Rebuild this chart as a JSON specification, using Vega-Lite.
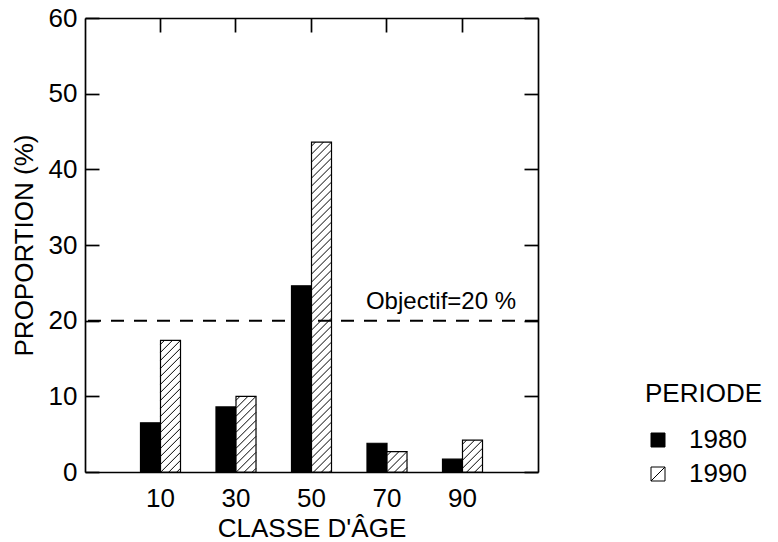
{
  "$schema": "https://vega.github.io/schema/vega-lite/v6.json",
  "width": 453,
  "height": 454,
  "autosize": {"type": "none"},
  "padding": {"left": 85, "top": 18, "right": 240, "bottom": 70},
  "background": "white",
  "config": {
    "view": {"stroke": null},
    "font": "Liberation Sans",
    "axis": {
      "domainColor": "black",
      "domainWidth": 1.7,
      "tickColor": "black",
      "tickWidth": 1.7,
      "tickSize": -14,
      "labelFont": "Liberation Sans",
      "labelFontSize": 26,
      "labelColor": "black",
      "titleFont": "Liberation Sans",
      "titleFontSize": 26,
      "titleFontWeight": "normal",
      "titleColor": "black",
      "grid": false
    }
  },
  "data": {
    "values": [
      {"classe": 10, "periode": "1980", "proportion": 6.5},
      {"classe": 10, "periode": "1990", "proportion": 17.4},
      {"classe": 30, "periode": "1980", "proportion": 8.6},
      {"classe": 30, "periode": "1990", "proportion": 10.0},
      {"classe": 50, "periode": "1980", "proportion": 24.6},
      {"classe": 50, "periode": "1990", "proportion": 43.6},
      {"classe": 70, "periode": "1980", "proportion": 3.8},
      {"classe": 70, "periode": "1990", "proportion": 2.7},
      {"classe": 90, "periode": "1980", "proportion": 1.7},
      {"classe": 90, "periode": "1990", "proportion": 4.2}
    ]
  },
  "layer": [
    {
      "mark": {"type": "bar", "stroke": "black", "strokeWidth": 1.2},
      "encoding": {
        "x": {
          "field": "classe",
          "type": "ordinal",
          "scale": {"domain": [10, 30, 50, 70, 90], "paddingInner": 0.47, "paddingOuter": 0.735},
          "axis": {"orient": "bottom", "title": "CLASSE D'ÂGE", "labelAngle": 0, "labelPadding": 27, "titlePadding": 4}
        },
        "xOffset": {
          "field": "periode",
          "type": "nominal",
          "scale": {"domain": ["1980", "1990"], "paddingInner": 0, "paddingOuter": 0}
        },
        "y": {
          "field": "proportion",
          "type": "quantitative",
          "scale": {"domain": [0, 60], "nice": false},
          "axis": {"orient": "left", "title": "PROPORTION (%)", "values": [0, 10, 20, 30, 40, 50, 60], "labelPadding": 22, "titlePadding": 11}
        },
        "fill": {
          "field": "periode",
          "type": "nominal",
          "scale": {"domain": ["1980", "1990"], "range": ["black", "white"]},
          "legend": {
            "orient": "none",
            "legendX": 560,
            "legendY": 363,
            "title": "PERIODE",
            "titleFont": "Liberation Sans",
            "titleFontSize": 26,
            "titleFontWeight": "normal",
            "titleColor": "black",
            "titlePadding": 20,
            "labelFont": "Liberation Sans",
            "labelFontSize": 26,
            "labelColor": "black",
            "labelOffset": 18,
            "rowPadding": 8,
            "symbolType": "M-1,-1H1V1H-1ZM-1,1L1,-1",
            "symbolSize": 196,
            "symbolStrokeColor": "black",
            "symbolStrokeWidth": 1
          }
        }
      }
    },
    {
      "transform": [{"filter": "datum.periode == '1990'"}],
      "mark": {
        "type": "point",
        "shape": "M-1,0.4L-0.6,0M-1,1.2L0.2,0M-1,2L1,0M-1,2.8L1,0.8M-1,3.6L1,1.6M-1,4.4L1,2.4M-1,5.2L1,3.2M-1,6L1,4M-1,6.8L1,4.8M-1,7.6L1,5.6M-1,8.4L1,6.4M-1,9.2L1,7.2M-1,10L1,8M-1,10.8L1,8.8M-1,11.6L1,9.6M-1,12.4L1,10.4M-1,13.2L1,11.2M-1,14L1,12M-1,14.8L1,12.8M-1,15.6L1,13.6M-1,16.4L1,14.4M-1,17.2L1,15.2M-1,18L1,16M-1,18.8L1,16.8M-1,19.6L1,17.6M-1,20.4L1,18.4M-1,21.2L1,19.2M-1,22L1,20M-1,22.8L1,20.8M-1,23.6L1,21.6M-1,24.4L1,22.4M-1,25.2L1,23.2M-1,26L1,24M-1,26.8L1,24.8M-1,27.6L1,25.6M-1,28.4L1,26.4M-1,29.2L1,27.2M-1,30L1,28M-1,30.8L1,28.8M-1,31.6L1,29.6M-1,32.4L1,30.4M-1,33.2L1,31.2M-1,34L1,32M-1,34.8L1,32.8M-1,35.6L1,33.6",
        "size": 400,
        "filled": false,
        "color": "black",
        "strokeWidth": 1,
        "opacity": 1,
        "clip": true
      },
      "encoding": {
        "x": {"field": "classe", "type": "ordinal", "axis": {"orient": "top", "labels": false, "title": null}},
        "xOffset": {"field": "periode", "type": "nominal"},
        "y": {"field": "proportion", "type": "quantitative", "axis": {"orient": "right", "labels": false, "title": null, "values": [0, 10, 20, 30, 40, 50, 60]}}
      }
    },
    {
      "data": {"values": [{"objectif": 20, "label": "Objectif=20 %"}]},
      "mark": {"type": "rule", "strokeDash": [13, 10], "strokeWidth": 2, "color": "black"},
      "encoding": {"y": {"field": "objectif", "type": "quantitative", "axis": null}}
    },
    {
      "data": {"values": [{"objectif": 20, "label": "Objectif=20 %"}]},
      "mark": {"type": "text", "fontSize": 24, "font": "Liberation Sans", "color": "black", "align": "center", "baseline": "alphabetic", "dx": 54, "dy": -12},
      "encoding": {
        "x": {"datum": 70, "type": "ordinal", "axis": null},
        "y": {"field": "objectif", "type": "quantitative", "axis": null},
        "text": {"field": "label"}
      }
    }
  ],
  "resolve": {"axis": {"x": "independent", "y": "independent"}}
}
